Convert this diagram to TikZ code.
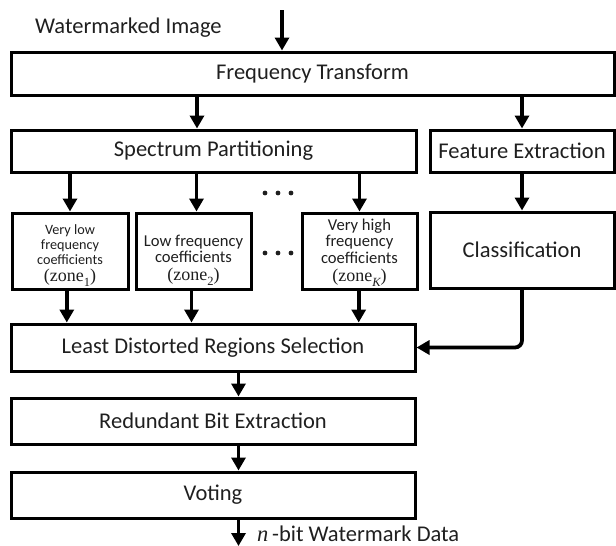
\documentclass[tikz,border=0pt]{standalone}
\usepackage{fontspec}
\setmainfont{Carlito}
\newfontfamily\tnr{Liberation Serif}
\usetikzlibrary{arrows.meta}
\newcommand{\zonelab}[1]{{\tnr\fontsize{18}{16}\selectfont (zone\raisebox{-4.5pt}{\fontsize{12.5}{12}\selectfont #1})}}
\begin{document}
\begin{tikzpicture}[x=1pt,y=-1pt,
  box/.style={draw=black, line width=3pt, inner sep=0pt, text=black!88},
  arr/.style={line width=3.8pt, draw=black, -{Triangle[length=13pt,width=14pt]}},
  big/.style={font=\fontsize{22.5}{26}\selectfont, text=black!88},
  zmid/.style={font=\fontsize{16.6}{16.6}\selectfont, align=center, inner sep=0pt, text=black!88},
  zsmall/.style={font=\fontsize{14.2}{15}\selectfont, align=center, inner sep=0pt, text=black!88},
  dot/.style={fill=black!88}]
\useasboundingbox (0,0) rectangle (616,546);

% boxes
\node[box, big, minimum width=603pt, minimum height=43pt] (ft) at (312.5,73.5) {Frequency Transform};
\node[box, big, minimum width=405pt, minimum height=42pt] (sp) at (213.5,151) {Spectrum Partitioning};
\node[box, big, minimum width=184pt, minimum height=42pt] (fe) at (522,151) {Feature Extraction};
\node[box, minimum width=116pt, minimum height=76pt] (z1) at (70,251) {};
\node[box, minimum width=115pt, minimum height=76pt] (z2) at (193.5,251) {};
\node[box, minimum width=115pt, minimum height=76pt] (zk) at (359.5,251) {};
\node[box, big, minimum width=184pt, minimum height=76pt] (cl) at (522,250) {Classification};
\node[box, big, minimum width=404pt, minimum height=47pt] (ld) at (213,347.5) {Least Distorted Regions Selection};
\node[box, big, minimum width=404pt, minimum height=46pt] (rb) at (213,421) {Redundant Bit Extraction};
\node[box, big, minimum width=404pt, minimum height=46pt] (vo) at (213,495) {Voting};

% zone texts
\node[zsmall] (z1t) at (70,255.5) {Very low\\frequency\\coefficients\\[2.5pt]\zonelab{1}};
\node[zmid] (z2t) at (193.5,260) {Low frequency\\coefficients\\[1.5pt]\zonelab{2}};
\node[zmid] (zkt) at (359.5,252.5) {Very high\\frequency\\coefficients\\[1.5pt]\zonelab{\itshape K}};

% labels
\node[big, anchor=base west, inner sep=0pt] (wi) at (35,33) {Watermarked Image};
\node[big, anchor=base west, inner sep=0pt] (nb) at (257,541) {{\tnr\itshape n}\,-bit Watermark Data};

% coordinates
\coordinate (in) at (282,10);
\coordinate (xa) at (197,0);
\coordinate (xb) at (196.5,0);
\coordinate (d1) at (66.8,0);
\coordinate (d2) at (191.5,0);
\coordinate (dk) at (358.7,0);
\coordinate (xc) at (238.5,0);
\coordinate (out) at (238.5,546);

% connectors
\draw[arr] (in) -- (in |- ft.north);
\draw[arr] (xa |- ft.south) -- (xa |- sp.north);
\draw[arr] (fe.north |- ft.south) -- (fe.north);
\draw[arr] (z1.north |- sp.south) -- (z1.north);
\draw[arr] (xb |- sp.south) -- (xb |- z2.north);
\draw[arr] (zk.north |- sp.south) -- (zk.north);
\draw[arr] (fe.south) -- (cl.north);
\draw[arr] (d1 |- z1.south) -- (d1 |- ld.north);
\draw[arr] (d2 |- z2.south) -- (d2 |- ld.north);
\draw[arr] (dk |- zk.south) -- (dk |- ld.north);
\draw[arr, rounded corners=7pt] (cl.south) |- (ld.east);
\draw[arr] (xc |- ld.south) -- (xc |- rb.north);
\draw[arr] (xc |- rb.south) -- (xc |- vo.north);
\draw[arr] (xc |- vo.south) -- (out);

% ellipses
\foreach \x in {265,278,291} {
  \fill[dot] (\x,193) circle (2.4pt);
  \fill[dot] (\x,253) circle (2.4pt);
}
\end{tikzpicture}
\end{document}
